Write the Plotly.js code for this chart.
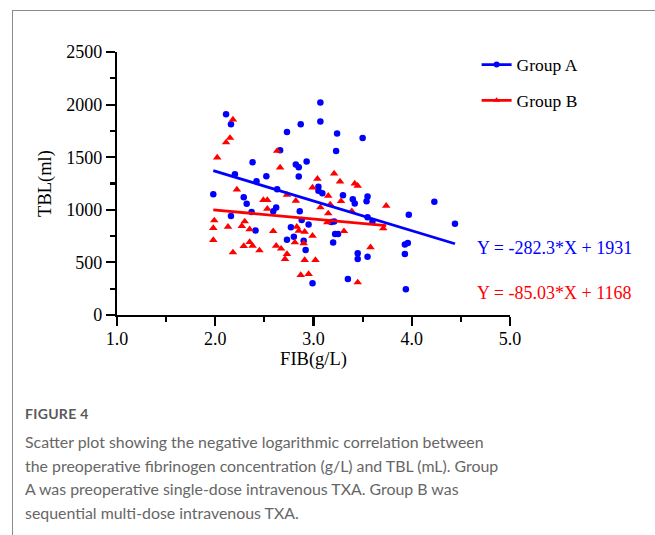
<!DOCTYPE html>
<html>
<head>
<meta charset="utf-8">
<script src="https://cdn.plot.ly/plotly-3.0.1.min.js"></script>
<style>
  html, body { margin: 0; padding: 0; background: #fff; }
  #wrap { position: relative; width: 655px; height: 535px; overflow: hidden; }
  #chart { position: absolute; left: 0; top: 0; width: 655px; height: 535px; }
  #frame { position: absolute; left: 12px; top: 10px; width: 700px; height: 600px;
           border-left: 1.5px solid #8a8a8a; border-top: 1.5px solid #8a8a8a; }
  #caption { position: absolute; left: 25px; top: 405px; font-family: Lato, "Open Sans", sans-serif; color: #666; }
  #caption .fig { font-size: 14px; font-weight: bold; letter-spacing: 0.3px; color: #5a5a5a; margin-bottom: 8px; }
  #caption .txt { font-size: 15.9px; line-height: 23.6px; }
</style>
</head>
<body>
<div id="wrap">
  <div id="frame"></div>
  <div id="chart"></div>
  <div id="caption">
    <div class="fig">FIGURE 4</div>
    <div class="txt">Scatter plot showing the negative logarithmic correlation between<br>the preoperative fibrinogen concentration (g/L) and TBL (mL). Group<br>A was preoperative single-dose intravenous TXA. Group B was<br>sequential multi-dose intravenous TXA.</div>
  </div>
</div>
<script>
// Group A (blue circles)
const groupA_x = [2.11, 2.16, 2.73, 2.87, 2.66, 2.38, 2.82, 2.85, 2.20, 2.42, 2.52, 2.85, 2.63, 1.98, 2.29, 2.32,
  2.62, 2.59, 2.16, 2.37, 2.86, 2.41, 2.77, 2.80, 2.73, 3.07, 3.07, 3.24, 3.50, 3.23, 2.93, 3.05,
  3.05, 3.09, 3.30, 3.40, 3.42, 3.55, 3.54, 3.55, 2.88, 2.95, 3.18, 3.21, 3.60, 2.90, 3.22, 3.25,
  3.20, 2.92, 2.99, 3.35, 3.45, 3.45, 3.55, 4.23, 3.97, 4.44, 3.96, 3.93, 3.93, 3.94];
const groupA_y = [1908, 1813, 1740, 1813, 1566, 1453, 1431, 1405, 1339, 1272, 1320, 1317, 1196, 1149, 1120, 1057,
  1022, 987, 940, 978, 987, 804, 833, 743, 715, 2019, 1839, 1725, 1683, 1560, 1459, 1218,
  1180, 1158, 1139, 1101, 1060, 1127, 1082, 930, 902, 861, 883, 889, 889, 706, 769, 769,
  690, 617, 301, 342, 586, 532, 554, 1076, 952, 867, 684, 671, 579, 244];

// Group B (red triangles)
const groupB_x = [2.18, 2.15, 2.11, 2.02, 2.63, 2.66, 2.22, 2.73, 2.49, 2.53, 2.82, 2.53, 1.99, 1.98, 2.13, 2.30,
  2.27, 2.35, 2.59, 2.83, 2.81, 1.98, 2.35, 2.38, 2.29, 2.45, 2.18, 2.62, 2.67, 2.73, 2.71, 3.21,
  3.04, 3.27, 3.42, 3.45, 2.99, 3.15, 3.74, 3.07, 3.17, 3.28, 3.39, 3.15, 3.14, 3.71, 2.85, 2.91,
  2.99, 2.90, 3.31, 2.91, 3.02, 2.87, 2.95, 3.45, 3.58];
const groupB_y = [1858, 1683, 1640, 1497, 1560, 1402, 1193, 1142, 1092, 1092, 1085, 1009, 899, 826, 838, 889,
  845, 814, 797, 838, 690, 712, 693, 658, 655, 614, 595, 658, 630, 579, 532, 1345,
  1294, 1269, 1250, 1228, 1212, 1133, 1038, 1022, 1051, 1082, 987, 966, 880, 823, 800, 791,
  753, 681, 797, 522, 522, 380, 389, 310, 643];

// Linear fits (as printed on the chart)
const fitA = { slope: -282.3, intercept: 1931, label: "Y = -282.3*X + 1931" };
const fitB = { slope: -85.03, intercept: 1168, label: "Y = -85.03*X + 1168" };

const xTicks = [1.0, 2.0, 3.0, 4.0, 5.0];
const yTicks = [0, 500, 1000, 1500, 2000, 2500];

const BLUE = "#0000ff", RED = "#ff0000";
const serif = "'Liberation Serif', 'Times New Roman', serif";

function fitLine(xs, fit) {
  const x0 = Math.min(...xs), x1 = Math.max(...xs);
  return { x: [x0, x1], y: [fit.slope * x0 + fit.intercept, fit.slope * x1 + fit.intercept] };
}
const lA = fitLine(groupA_x, fitA), lB = fitLine(groupB_x, fitB);

const traces = [
  { x: groupA_x, y: groupA_y, type: "scatter", mode: "markers", showlegend: false,
    marker: { color: BLUE, size: 6.5, symbol: "circle" }, cliponaxis: false },
  { x: groupB_x, y: groupB_y, type: "scatter", mode: "markers", showlegend: false,
    marker: { color: RED, size: 7.5, symbol: "triangle-up" }, cliponaxis: false },
  { x: lA.x, y: lA.y, type: "scatter", mode: "lines", showlegend: false,
    line: { color: BLUE, width: 2.8 } },
  { x: lB.x, y: lB.y, type: "scatter", mode: "lines", showlegend: false,
    line: { color: RED, width: 2.8 } },
  { x: [null], y: [null], type: "scatter", mode: "lines+markers", name: "Group A", legendgroup: "a",
    line: { color: BLUE, width: 2.8 }, marker: { color: BLUE, size: 6, symbol: "circle" } },
  { x: [null], y: [null], type: "scatter", mode: "lines+markers", name: "Group B", legendgroup: "b",
    line: { color: RED, width: 2.8 }, marker: { color: RED, size: 6, symbol: "triangle-up" } }
];

const layout = {
  width: 655, height: 535,
  margin: { l: 117, r: 145, t: 52, b: 220 },
  paper_bgcolor: "rgba(0,0,0,0)", plot_bgcolor: "rgba(0,0,0,0)",
  font: { family: serif, size: 16, color: "#000" },
  showlegend: true,
  legend: { x: 0.915, xanchor: "left", y: 1.02, yanchor: "top", bgcolor: "rgba(0,0,0,0)",
            font: { family: serif, size: 17.5, color: "#000" }, tracegroupgap: 10, traceorder: "grouped" },
  xaxis: {
    range: [1, 5], tickvals: xTicks, ticktext: xTicks.map(v => v.toFixed(1)),
    showline: true, linecolor: "#000", linewidth: 2.2, ticks: "outside", ticklen: 9, tickwidth: 2.2, tickcolor: "#000",
    minor: { ticks: "outside", dtick: 0.5, ticklen: 5, tickwidth: 2.2, tickcolor: "#000" },
    showgrid: false, zeroline: false, tickfont: { family: serif, size: 18 }, ticklabelstandoff: -3,
    title: { text: "FIB(g/L)", font: { family: serif, size: 18.5 }, standoff: 0 }
  },
  yaxis: {
    range: [0, 2500], tickvals: yTicks, ticktext: yTicks.map(String),
    showline: true, linecolor: "#000", linewidth: 2.2, ticks: "outside", ticklen: 9, tickwidth: 2.2, tickcolor: "#000",
    minor: { ticks: "outside", dtick: 250, ticklen: 5, tickwidth: 2.2, tickcolor: "#000" },
    showgrid: false, zeroline: false, tickfont: { family: serif, size: 18 },
    title: { text: "TBL(ml)", font: { family: serif, size: 18.5 }, standoff: 10 }
  },
  annotations: [
    { xref: "paper", yref: "paper", x: 0.912, y: 0.2545, xanchor: "left", yanchor: "middle", showarrow: false,
      text: fitA.label, font: { family: serif, size: 18, color: BLUE } },
    { xref: "paper", yref: "paper", x: 0.912, y: 0.0836, xanchor: "left", yanchor: "middle", showarrow: false,
      text: fitB.label, font: { family: serif, size: 18, color: RED } }
  ]
};

Plotly.newPlot("chart", traces, layout, { staticPlot: true, displayModeBar: false });
</script>
</body>
</html>
